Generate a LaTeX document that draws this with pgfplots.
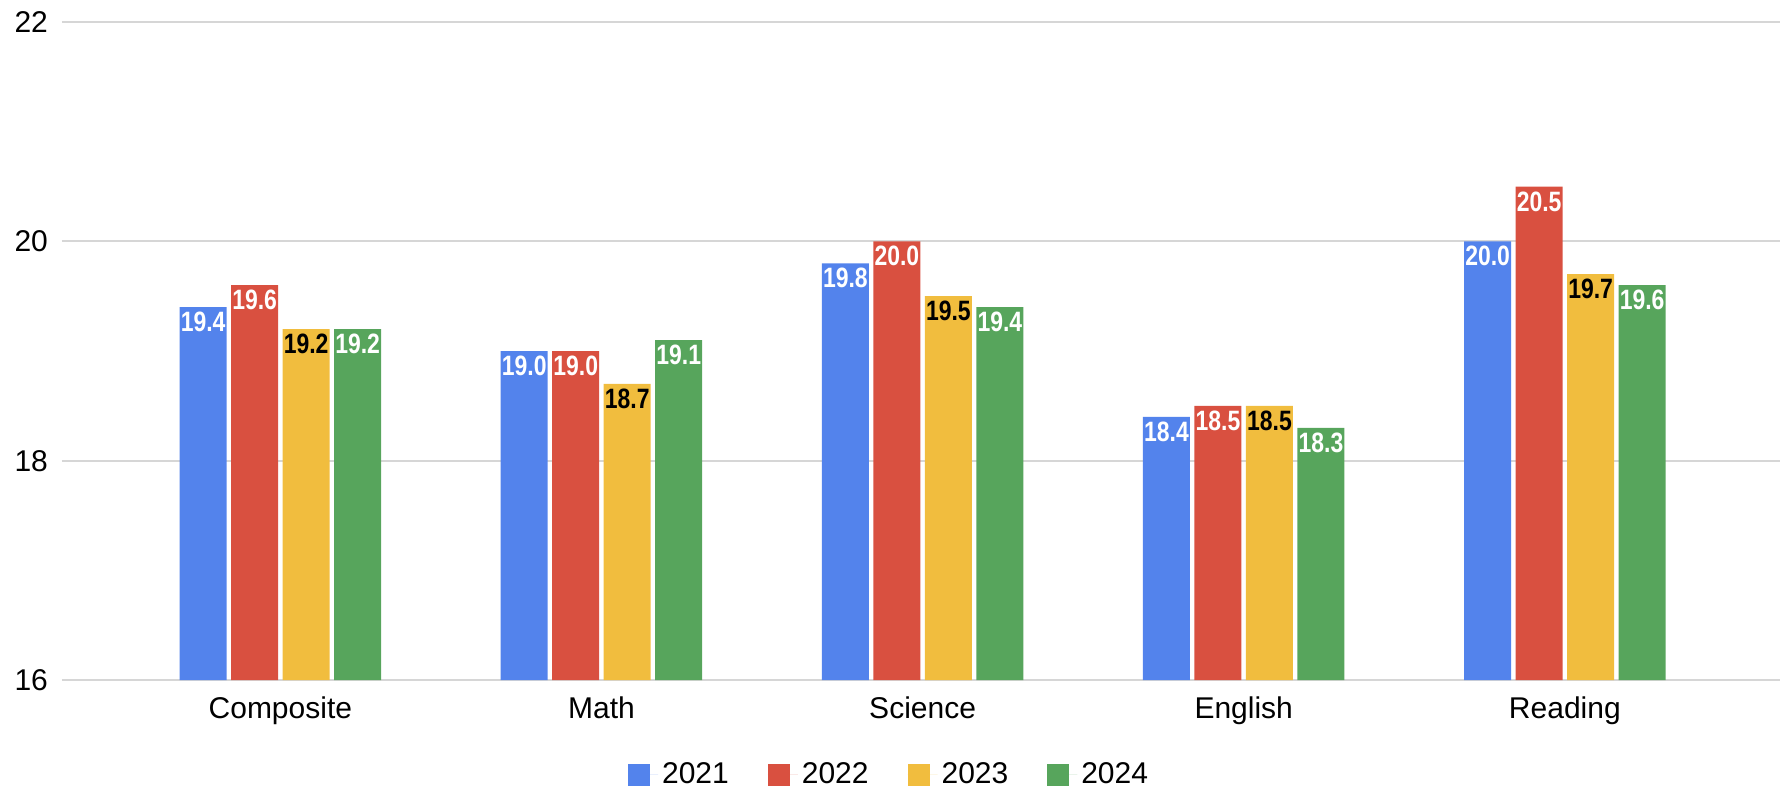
\documentclass[border=0pt]{standalone}
\usepackage{fontspec}
\setmainfont{Liberation Sans}
\newfontfamily\labelfont[FakeStretch=0.82]{Liberation Sans}
\usepackage{pgfplots}
\usepackage{pgfplotstable}
\pgfplotsset{compat=1.18}
\definecolor{cA}{RGB}{83,131,236}
\definecolor{cB}{RGB}{217,80,64}
\definecolor{cC}{RGB}{241,189,62}
\definecolor{cD}{RGB}{87,165,92}
\definecolor{gridc}{RGB}{214,214,214}
\pgfplotstableread{
x y21 y22 y23 y24
0 19.4 19.6 19.2 19.2
1 19.0 19.0 18.7 19.1
2 19.8 20.0 19.5 19.4
3 18.4 18.5 18.5 18.3
4 20.0 20.5 19.7 19.6
}\scores
\begin{document}
\begin{tikzpicture}
\begin{axis}[
 scale only axis, width=859pt, height=329pt,
 xmin=-0.68, xmax=4.67, ymin=16, ymax=22,
 xtick={0,1,2,3,4}, xticklabels={Composite,Math,Science,English,Reading},
 ytick={16,18,20,22},
 ymajorgrids, grid style={draw=gridc, line width=1pt},
 axis line style={draw=none},
 major tick length=0pt,
 tick label style={font=\fontsize{15}{18}\selectfont},
 yticklabel style={xshift=-3.5pt},
 xticklabel style={yshift=-5pt},
 /pgf/number format/assume math mode=true,
 ybar=2.25pt, bar width=23.5pt,
 nodes near coords={\pgfmathprintnumber[fixed,fixed zerofill,precision=1]{\pgfplotspointmeta}},
 nodes near coords align={below},
 every node near coord/.append style={font=\labelfont\bfseries\fontsize{14}{16}\selectfont, text=white, yshift=1pt},
 legend columns=4,
 legend style={at={(0.482,-0.144)}, anchor=center, draw=none, fill=none, font=\fontsize{15}{18}\selectfont, /tikz/every even column/.append style={column sep=17.5pt}},
 legend image code/.code={\fill[#1, draw=none] (0pt,-5.5pt) rectangle (11pt,5.5pt); \path (0pt,0pt) -- (15pt,0pt);},
]
\addplot[fill=cA, draw=none] table[x=x,y=y21]{\scores};
\addplot[fill=cB, draw=none] table[x=x,y=y22]{\scores};
\addplot[fill=cC, draw=none, every node near coord/.append style={text=black}] table[x=x,y=y23]{\scores};
\addplot[fill=cD, draw=none] table[x=x,y=y24]{\scores};
\legend{2021,2022,2023,2024}
\end{axis}
\pgfresetboundingbox
\path (-31pt,-54.5pt) rectangle (863.5pt,340pt);
\end{tikzpicture}
\end{document}
